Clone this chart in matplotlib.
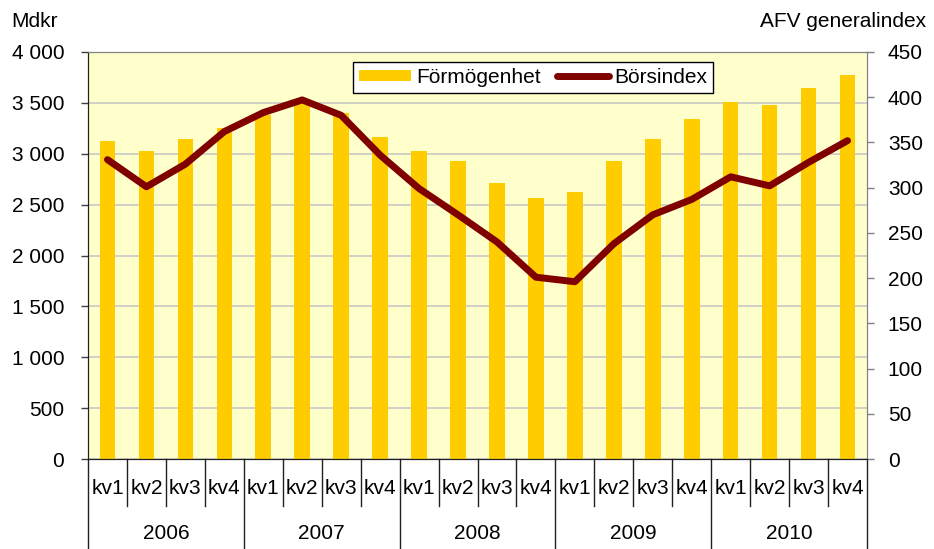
import matplotlib
matplotlib.use('Agg')
import matplotlib.pyplot as plt
import matplotlib.transforms as mtransforms
from matplotlib.ticker import FuncFormatter

plt.rcParams['font.family'] = ['Liberation Sans', 'DejaVu Sans']

quarters = ['kv1', 'kv2', 'kv3', 'kv4'] * 5
years = ['2006', '2007', '2008', '2009', '2010']
formogenhet = [3124, 3023, 3141, 3256, 3377, 3495, 3400, 3167,
               3030, 2925, 2715, 2570, 2620, 2931, 3141, 3341,
               3507, 3477, 3645, 3772]
borsindex = [331, 301, 326, 362, 383, 397, 380, 336,
             299, 270, 240, 201, 196, 238, 270, 287,
             312, 302, 328, 352]

FS = 15

fig = plt.figure(figsize=(9.34, 5.49), dpi=100)
ax = fig.add_axes([0.0942, 0.1639, 0.8341, 0.7414])
ax2 = ax.twinx()

x = list(range(len(formogenhet)))
ax.set_facecolor('#FFFFCC')
ax.bar(x, formogenhet, width=0.4, color='#FFCC00', label='Förmögenhet', zorder=2)
ax.set_ylim(0, 4000)
ax.set_yticks(range(0, 4001, 500))
ax.yaxis.set_major_formatter(FuncFormatter(lambda v, p: f'{int(v):,}'.replace(',', ' ')))
ax.grid(axis='y', color='#C8C8C8', linewidth=1.2, zorder=0)
ax.set_axisbelow(True)
ax.set_xlim(-0.5, len(x) - 0.5)
ax.set_xticks([])

ax2.plot(x, borsindex, color='#800000', linewidth=5, solid_capstyle='round',
         solid_joinstyle='round', label='Börsindex')
ax2.set_ylim(0, 450)
ax2.set_yticks(range(0, 451, 50))

for a in (ax, ax2):
    a.tick_params(axis='y', labelsize=FS, length=5, width=1)
    for s in a.spines.values():
        s.set_color('#808080')
ax.tick_params(axis='y', pad=12, color='#404040')
ax2.tick_params(axis='y', pad=10, color='#808080')
ax.spines['left'].set_color('#202020')
ax.spines['bottom'].set_color('#202020')
ax2.spines['bottom'].set_color('#202020')
ax2.spines['left'].set_color('#202020')

# two-level category axis
trans = mtransforms.blended_transform_factory(ax.transData, ax.transAxes)
for i, q in enumerate(quarters):
    ax.text(i, -0.0713, q, transform=trans, ha='center', va='center', fontsize=FS)
for j, yr in enumerate(years):
    ax.text(j * 4 + 1.5, -0.182, yr, transform=trans, ha='center', va='center', fontsize=FS)
for b in range(len(x) + 1):
    low = -0.221 if b % 4 == 0 else -0.1155
    ax.plot([b - 0.5, b - 0.5], [0, low], transform=trans, color='#202020',
            linewidth=1, clip_on=False)

fig.text(0.012, 0.96, 'Mdkr', fontsize=FS, ha='left', va='center')
fig.text(0.992, 0.96, 'AFV generalindex', fontsize=FS, ha='right', va='center')

h1, l1 = ax.get_legend_handles_labels()
h2, l2 = ax2.get_legend_handles_labels()
leg = ax2.legend(h1 + h2, l1 + l2, loc='upper left', bbox_to_anchor=(0.34, 0.976),
                 ncol=2, fontsize=FS, frameon=True, fancybox=False, framealpha=1,
                 edgecolor='black', borderpad=0.3, handlelength=2.5, handleheight=0.45,
                 handletextpad=0.25, columnspacing=0.75, borderaxespad=0)
leg.get_frame().set_linewidth(1)

fig.savefig('out.png', dpi=100)
